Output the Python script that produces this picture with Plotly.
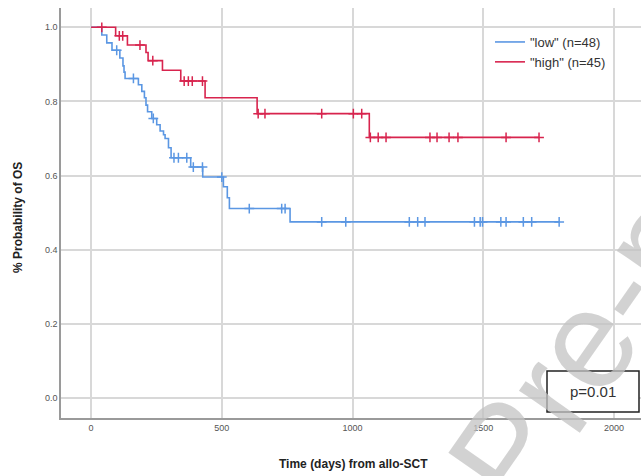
import plotly.graph_objects as go

# ---- data ----
low_label = '"low" (n=48)'
high_label = '"high" (n=45)'

low_event_t = [0, 41, 60, 80, 110, 122, 126, 130, 181, 194, 204, 210, 216, 232, 251, 264, 277, 283, 296, 306,
               381, 427, 506, 521, 529, 761]
low_event_s = [1.0, 0.979, 0.958, 0.938, 0.917, 0.896, 0.879, 0.862, 0.845, 0.827, 0.81, 0.79, 0.772, 0.754,
               0.737, 0.72, 0.71, 0.70, 0.675, 0.648, 0.623, 0.596, 0.57, 0.54, 0.511, 0.475]
low_censor_t = [98, 162, 238, 317, 334, 366, 391, 426, 500, 605, 729, 742, 882, 974, 1217, 1249, 1277,
                1466, 1488, 1497, 1567, 1587, 1653, 1685, 1790]

high_event_t = [0, 94, 139, 210, 218, 273, 343, 436, 635, 1064]
high_event_s = [1.0, 0.977, 0.952, 0.932, 0.91, 0.884, 0.855, 0.81, 0.767, 0.703]
high_censor_t = [41, 108, 121, 187, 236, 356, 372, 387, 426, 639, 665, 882, 1003, 1035, 1068, 1098, 1128,
                 1296, 1323, 1369, 1403, 1587, 1713]

x_ticks = [0, 500, 1000, 1500, 2000]
y_ticks = [0.0, 0.2, 0.4, 0.6, 0.8, 1.0]
p_text = "p=0.01"
x_title = "Time (days) from allo-SCT"
y_title = "% Probability of OS"
watermark = "Pre-proof"

LOW_COLOR = "#5b97e3"
HIGH_COLOR = "#d8244e"

W, H = 641, 476
ML, MR, MT, MB = 61, 0, 8, 58
PW, PH = W - ML - MR, H - MT - MB


def px(x):
    return (x - ML) / PW


def py(y):
    return 1 - (y - MT) / PH


def surv_at(t, ev_t, ev_s):
    s = ev_s[0]
    for et, es in zip(ev_t, ev_s):
        if et <= t:
            s = es
    return s


def curve(ev_t, ev_s, cens_t):
    xs = list(ev_t) + [max(cens_t + ev_t)]
    ys = list(ev_s) + [ev_s[-1]]
    return xs, ys


fig = go.Figure()
for name, et, es, ct, col in [(low_label, low_event_t, low_event_s, low_censor_t, LOW_COLOR),
                              (high_label, high_event_t, high_event_s, high_censor_t, HIGH_COLOR)]:
    xs, ys = curve(et, es, ct)
    fig.add_trace(go.Scatter(x=xs, y=ys, mode="lines", line=dict(color=col, width=1.6, shape="hv"),
                             name=name))
    fig.add_trace(go.Scatter(x=ct, y=[surv_at(t, et, es) for t in ct], mode="markers",
                             marker=dict(symbol="cross-thin", size=7, line=dict(color=col, width=1.5)),
                             showlegend=False, hoverinfo="skip"))

fig.update_layout(
    width=W, height=H,
    margin=dict(l=ML, r=MR, t=MT, b=MB, autoexpand=False),
    paper_bgcolor="white", plot_bgcolor="white",
    font=dict(family="Liberation Sans, Arial, sans-serif", color="#333"),
    showlegend=True,
    legend=dict(x=px(490), y=py(27), xanchor="left", yanchor="top", bgcolor="rgba(0,0,0,0)",
                font=dict(size=13, color="#333"), tracegroupgap=0, itemwidth=30),
)
fig.update_xaxes(range=[-115, 2103], tickvals=x_ticks, ticktext=[str(v) for v in x_ticks],
                 showgrid=True, gridcolor="#d8d8d8", gridwidth=1.5, zeroline=False,
                 showline=True, linecolor="#9a9a9a", linewidth=1.5, automargin=False,
                 tickfont=dict(size=9, color="#555"), ticks="")
fig.update_yaxes(range=[-0.054, 1.052], tickvals=y_ticks, ticktext=["%.1f" % v for v in y_ticks],
                 showgrid=True, gridcolor="#d8d8d8", gridwidth=1.5, zeroline=False,
                 showline=True, linecolor="#9a9a9a", linewidth=1.5, automargin=False,
                 tickfont=dict(size=9, color="#555"), ticks="")

# axis titles
fig.add_annotation(xref="paper", yref="paper", x=px(353), y=py(464), text="<b>" + x_title + "</b>",
                   showarrow=False, xanchor="center", yanchor="middle",
                   font=dict(size=12, color="#222"))
fig.add_annotation(xref="paper", yref="paper", x=px(18), y=py(218), text="<b>" + y_title + "</b>",
                   showarrow=False, xanchor="center", yanchor="middle", textangle=-90,
                   font=dict(size=12, color="#222"))

# p-value box
fig.add_shape(type="rect", xref="paper", yref="paper",
              x0=px(547), x1=px(639), y0=py(412), y1=py(371),
              line=dict(color="#222", width=1.5), fillcolor="white", layer="above")
fig.add_annotation(xref="paper", yref="paper", x=px(593), y=py(391), xanchor="center", yanchor="middle",
                   text=p_text, showarrow=False, font=dict(size=15, color="#333"))

# watermark
fig.add_annotation(xref="paper", yref="paper", x=px(648), y=py(250), xanchor="center", yanchor="middle",
                   text=watermark, showarrow=False, textangle=-55,
                   font=dict(size=140, color="rgba(195,195,195,0.75)", family="Liberation Sans, Arial"))

fig.write_html("out.html", config={"displayModeBar": False},
               post_script="document.body.style.margin='0';document.body.style.overflow='hidden';")
